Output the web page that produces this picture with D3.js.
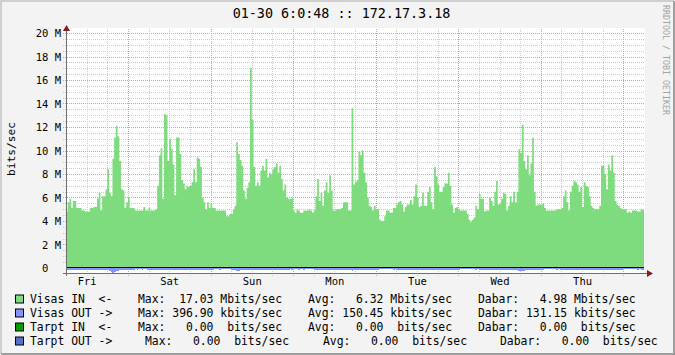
<!DOCTYPE html>
<html>
<head>
<meta charset="utf-8">
<script src="https://cdn.jsdelivr.net/npm/d3@7"></script>
<style>
  body { margin: 0; background: #fff; }
  svg text { font-family: "DejaVu Sans Mono", monospace; white-space: pre; }
</style>
</head>
<body>
<div id="chart"></div>
<script>
// Graph window: 7 days, 30 min steps, ending 01-30 06:00
let start = Date.UTC(2009, 0, 23, 6, 0, 0),
  end = Date.UTC(2009, 0, 30, 6, 0, 0),
  step = 30 * 60 * 1000;

let title = "01-30 6:0:48 :: 172.17.3.18";
let unitLabel = "bits/sec";
let watermark = "RRDTOOL / TOBI OETIKER";
let days = ["Fri", "Sat", "Sun", "Mon", "Tue", "Wed", "Thu"];
let yTickValues = [0, 2, 4, 6, 8, 10, 12, 14, 16, 18, 20];

// Visas IN, Mbits/sec (one value per 30 min)
let inValues = [
  4.8, 5.6, 5.9, 5.1, 5.7, 5.7, 5.1, 5.1, 5.1, 4.9, 4.9, 4.8, 4.8, 4.8, 5.1, 5.1, 5.2, 5.2, 5.9, 6.4, 4.9, 6.1, 6.1, 6.7,
  8.4, 6.4, 6.1, 9.3, 11.1, 12.1, 11.2, 9.1, 6.7, 6.6, 5.1, 5.6, 6.0, 5.1, 5.1, 5.1, 4.9, 4.9, 4.9, 4.9, 4.9, 5.2, 4.9, 4.9,
  5.1, 4.9, 4.9, 4.9, 5.0, 7.0, 9.6, 10.2, 5.9, 13.1, 13.0, 9.1, 11.0, 10.1, 8.8, 6.2, 11.1, 11.1, 9.7, 7.5, 7.2, 6.7, 7.0, 6.9,
  7.0, 7.3, 8.4, 7.3, 9.4, 9.3, 8.6, 6.0, 5.6, 5.0, 5.6, 5.1, 5.5, 5.1, 5.1, 4.9, 4.9, 4.9, 4.9, 4.9, 4.9, 4.4, 4.4, 4.6,
  4.6, 5.0, 5.3, 10.7, 9.7, 9.2, 8.7, 6.6, 5.9, 6.8, 7.3, 17.03, 12.6, 8.6, 7.0, 7.3, 7.0, 8.3, 8.7, 8.3, 9.3, 7.7, 8.1, 8.0,
  8.4, 8.6, 8.9, 8.1, 8.7, 7.6, 6.6, 7.1, 6.0, 5.9, 5.9, 6.0, 4.9, 4.7, 5.0, 4.9, 4.7, 4.7, 4.9, 4.9, 4.9, 5.0, 4.9, 4.7,
  4.9, 6.1, 7.6, 5.7, 6.4, 5.3, 6.6, 7.3, 6.4, 7.9, 6.6, 4.9, 4.9, 5.0, 5.0, 5.0, 5.1, 5.6, 5.6, 5.6, 4.9, 4.9, 13.6, 7.1,
  7.3, 7.5, 9.9, 9.6, 10.0, 8.1, 7.3, 6.0, 5.3, 5.2, 4.9, 5.3, 5.0, 5.0, 4.1, 4.0, 4.0, 4.4, 4.9, 4.9, 4.7, 4.7, 5.1, 5.1,
  5.4, 5.6, 5.7, 5.4, 4.8, 5.2, 5.4, 5.4, 5.8, 5.4, 6.1, 7.1, 6.0, 5.2, 5.3, 6.4, 5.3, 5.3, 6.5, 6.9, 5.6, 5.0, 8.6, 7.8,
  7.1, 6.5, 6.5, 6.9, 7.2, 7.2, 8.1, 7.0, 5.4, 4.7, 5.1, 5.2, 5.0, 4.9, 4.9, 4.9, 4.9, 4.6, 4.1, 3.9, 4.1, 4.3, 5.3, 5.0,
  6.3, 5.9, 5.9, 4.8, 4.9, 4.9, 6.0, 5.7, 5.3, 6.5, 7.4, 5.4, 5.5, 5.9, 6.4, 6.3, 4.9, 5.3, 6.1, 5.6, 6.5, 5.6, 6.5, 10.1,
  9.8, 12.2, 9.1, 8.4, 9.6, 7.9, 8.9, 11.1, 6.5, 5.3, 5.4, 5.4, 5.4, 5.5, 5.1, 4.9, 4.9, 4.9, 4.9, 4.9, 4.9, 5.0, 5.0, 5.0,
  5.1, 6.1, 6.6, 5.6, 4.9, 6.5, 7.0, 7.4, 7.3, 7.1, 6.5, 6.9, 5.2, 7.3, 7.0, 6.9, 6.1, 5.3, 5.1, 5.0, 5.0, 5.0, 5.3, 8.7,
  8.7, 8.0, 6.7, 8.8, 8.3, 9.6, 8.1, 5.7, 5.4, 5.3, 5.1, 5.0, 5.0, 5.0, 4.7, 4.8, 4.7, 4.9, 4.9, 4.9, 4.8, 4.8, 5.0, 4.98
];

// Visas OUT, kbits/sec (drawn below zero)
let outValues = [
  140, 150, 145, 155, 150, 140, 135, 150, 145, 150, 140, 130, 135, 140, 150, 145, 150, 155, 160, 150, 140, 155, 160, 170,
  190, 240, 310, 396.9, 330, 260, 220, 180, 160, 150, 140, 135, 130, 140, 135, 130, 125, 130, 120, 125, 130, 125, 120, 130,
  130, 135, 140, 150, 145, 160, 175, 180, 165, 200, 190, 170, 185, 175, 165, 160, 190, 185, 170, 160, 155, 150, 160, 165,
  170, 160, 175, 180, 185, 170, 160, 145, 140, 135, 130, 140, 135, 130, 125, 120, 125, 130, 120, 115, 110, 115, 120, 125,
  130, 135, 170, 230, 240, 210, 190, 170, 160, 150, 155, 170, 180, 165, 150, 160, 165, 170, 160, 175, 170, 160, 165, 170,
  175, 165, 170, 160, 165, 150, 145, 140, 135, 130, 125, 130, 125, 120, 125, 130, 120, 125, 130, 125, 120, 115, 120, 125,
  130, 150, 160, 140, 155, 145, 150, 160, 150, 165, 150, 135, 130, 135, 140, 130, 135, 145, 140, 130, 135, 150, 250, 170,
  180, 175, 190, 200, 185, 170, 160, 150, 140, 135, 140, 130, 125, 130, 120, 125, 120, 115, 110, 115, 120, 125, 130, 125,
  135, 140, 145, 150, 140, 145, 150, 155, 145, 160, 150, 165, 170, 150, 145, 160, 150, 145, 165, 170, 150, 140, 175, 165,
  170, 160, 155, 165, 170, 175, 180, 165, 150, 135, 130, 135, 130, 125, 125, 120, 120, 115, 110, 110, 115, 120, 130, 125,
  150, 145, 140, 130, 135, 140, 150, 145, 140, 155, 165, 140, 145, 150, 160, 155, 135, 140, 150, 145, 150, 145, 150, 220,
  260, 250, 230, 200, 190, 210, 185, 200, 160, 140, 135, 140, 135, 130, 125, 125, 120, 120, 125, 120, 125, 130, 125, 130,
  140, 150, 155, 140, 135, 150, 160, 165, 160, 155, 150, 140, 160, 155, 150, 145, 135, 130, 130, 135, 130, 135, 180, 175,
  170, 165, 150, 175, 170, 185, 170, 150, 140, 135, 130, 130, 125, 125, 120, 120, 125, 125, 120, 125, 130, 125, 130, 131.15
];

// Legend
let legendNames = ["Visas IN  <-", "Visas OUT ->", "Tarpt IN  <-", "Tarpt OUT ->"];
let legendColors = ["#7edb7e", "#8292ff", "#00a000", "#5470c8"];
let maxValues = [17.03, 396.9, 0, 0];
let avgValues = [6.32, 150.45, 0, 0];
let curValues = [4.98, 131.15, 0, 0];
let legendUnits = ["M", "k", " ", " "];

let W = 675, H = 355;

let svg = d3
  .select("#chart")
  .append("svg")
  .attr("width", W)
  .attr("height", H);

// Background and shaded frame
svg.append("rect").attr("width", W).attr("height", H).attr("fill", "#f3f3f3");
svg.append("path").attr("d", "M1,354V1H674").attr("fill", "none")
  .attr("stroke", "#cfcfcf").attr("stroke-width", 2);
svg.append("path").attr("d", "M1,354H674V1").attr("fill", "none")
  .attr("stroke", "#9e9e9e").attr("stroke-width", 2);

// Scales
let x = d3.scaleUtc().domain([start, end]).range([66, 644]);
let y = d3.scaleLinear().domain([-0.4, 20]).range([272.7, 33]);

let x0 = x.range()[0], x1 = x.range()[1];
let crisp = (v) => Math.round(v) + 0.5;

// Canvas
svg.append("rect")
  .attr("x", x0).attr("y", 28)
  .attr("width", x1 - x0 + 1).attr("height", y(-0.4) - 28)
  .attr("fill", "#ffffff");

// Grid
let grid = svg.append("g").attr("shape-rendering", "crispEdges")
  .attr("stroke-dasharray", "1,1").attr("fill", "none");

let minorY = d3.range(0, 20.01, 0.5).filter((v) => v % 2 !== 0);
grid.selectAll(".hminor").data(minorY).join("line")
  .attr("x1", x0 - 3).attr("x2", x1 + 1)
  .attr("y1", (d) => crisp(y(d))).attr("y2", (d) => crisp(y(d)))
  .attr("stroke", "#cdcdcd");

let hours = x.ticks(d3.utcHour.every(6)).filter((d) => +d > start && +d < end);
let midnights = hours.filter((d) => d.getUTCHours() === 0);
let sixes = hours.filter((d) => d.getUTCHours() !== 0);

grid.selectAll(".vminor").data(sixes).join("line")
  .attr("x1", (d) => crisp(x(d))).attr("x2", (d) => crisp(x(d)))
  .attr("y1", 29).attr("y2", 276)
  .attr("stroke", "#cdcdcd");

grid.selectAll(".hmajor").data(yTickValues.filter((v) => v > 0)).join("line")
  .attr("x1", x0 - 3).attr("x2", x1 + 1)
  .attr("y1", (d) => crisp(y(d))).attr("y2", (d) => crisp(y(d)))
  .attr("stroke", "#e49b9b");

grid.selectAll(".vmajor").data(midnights).join("line")
  .attr("x1", (d) => crisp(x(d))).attr("x2", (d) => crisp(x(d)))
  .attr("y1", 29).attr("y2", 276)
  .attr("stroke", "#e49b9b");

// Series
let inData = inValues.map((v, i) => ({ t: start + i * step, v: v }));
inData.push({ t: end, v: inValues[inValues.length - 1] });
let outData = outValues.map((v, i) => ({ t: start + i * step, v: -v / 1000 }));
outData.push({ t: end, v: -outValues[outValues.length - 1] / 1000 });

let area = d3.area()
  .curve(d3.curveStepAfter)
  .x((d) => x(d.t))
  .y0(y(0))
  .y1((d) => y(d.v));

svg.append("path").datum(inData).attr("d", area).attr("fill", legendColors[0]);
svg.append("path").datum(outData).attr("d", area).attr("fill", legendColors[1])
  .attr("shape-rendering", "crispEdges");

// Zero line (sits just above the OUT band)
svg.append("line")
  .attr("x1", x0).attr("x2", x1)
  .attr("y1", Math.round(y(0)) - 0.5).attr("y2", Math.round(y(0)) - 0.5)
  .attr("stroke", "#000").attr("stroke-width", 1.2)
  .attr("shape-rendering", "crispEdges");

// Axis lines and arrows
let axisY = crisp(y(-0.4));
svg.append("line")
  .attr("x1", x0 - 3).attr("x2", x1 + 4)
  .attr("y1", axisY).attr("y2", axisY)
  .attr("stroke", "#707070").attr("shape-rendering", "crispEdges");
svg.append("line")
  .attr("x1", crisp(x0)).attr("x2", crisp(x0))
  .attr("y1", 30).attr("y2", 276)
  .attr("stroke", "#707070").attr("shape-rendering", "crispEdges");
svg.append("path")
  .attr("d", `M${x1 + 3},${axisY - 3.5}L${x1 + 9},${axisY}L${x1 + 3},${axisY + 3.5}Z`)
  .attr("fill", "#7f1f1f");
svg.append("path")
  .attr("d", `M${crisp(x0) - 3.5},${31}L${crisp(x0)},${25}L${crisp(x0) + 3.5},${31}Z`)
  .attr("fill", "#7f1f1f");

// y-axis labels
let yAxis = d3.axisLeft(y)
  .tickValues(yTickValues)
  .tickSize(0)
  .tickPadding(0)
  .tickFormat((d) => (d === 0 ? "0  " : d + " M"));
let yAxisEl = svg.append("g").attr("transform", "translate(61,0)").call(yAxis);
yAxisEl.select(".domain").remove();
yAxisEl.attr("font-family", null).attr("font-size", null);
yAxisEl.selectAll("text")
  .attr("xml:space", "preserve")
  .attr("dy", "0.35em")
  .style("font-size", "10.5px")
  .attr("fill", "#000");

// x-axis labels at noon of each day
let noons = days.map((d, i) => Date.UTC(2009, 0, 23 + i, 12));
let xAxis = d3.axisBottom(x)
  .tickValues(noons)
  .tickSize(0)
  .tickPadding(2)
  .tickFormat((d, i) => days[i]);
let xAxisEl = svg.append("g").attr("transform", "translate(0,276)").call(xAxis);
xAxisEl.select(".domain").remove();
xAxisEl.attr("font-family", null).attr("font-size", null);
xAxisEl.selectAll("text").style("font-size", "10.5px").attr("fill", "#000");

// Title, unit, watermark
svg.append("text")
  .attr("x", 341.5).attr("y", 18.3)
  .attr("text-anchor", "middle")
  .style("font-size", "13.4px")
  .text(title);

svg.append("text")
  .attr("transform", "translate(14.5,149) rotate(-90)")
  .attr("text-anchor", "middle")
  .style("font-size", "11.2px")
  .text(unitLabel);

svg.append("text")
  .attr("transform", "translate(663,5) rotate(90)")
  .attr("fill", "#a4a4a4")
  .style("font-size", "8.3px")
  .text(watermark);

// Legend rows
let fmt = d3.format("7.2f");
let colX = [
  [138, 308, 478],
  [138, 308, 478],
  [138, 308, 478],
  [145, 323, 500]
];

let legend = svg.append("g");
legendNames.forEach(function (name, i) {
  let base = 303 + i * 14;
  legend.append("rect")
    .attr("x", 15.5).attr("y", base - 8)
    .attr("width", 8).attr("height", 8)
    .attr("fill", legendColors[i])
    .attr("stroke", "#000");
  let parts = [
    name,
    "Max:" + fmt(maxValues[i]) + " " + legendUnits[i] + "bits/sec",
    "Avg:" + fmt(avgValues[i]) + " " + legendUnits[i] + "bits/sec",
    "Dabar:" + fmt(curValues[i]) + " " + legendUnits[i] + "bits/sec"
  ];
  let xs = [30].concat(colX[i]);
  parts.forEach(function (p, j) {
    legend.append("text")
      .attr("xml:space", "preserve")
      .attr("x", xs[j]).attr("y", base)
      .style("font-size", "11.4px")
      .text(p);
  });
});
</script>
</body>
</html>
